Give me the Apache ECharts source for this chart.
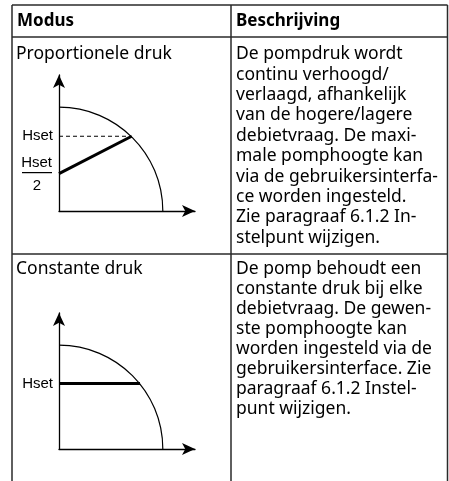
<!DOCTYPE html>
<html><head><meta charset="utf-8">
<script src="https://cdn.jsdelivr.net/npm/echarts@6/dist/echarts.min.js"></script>
<style>html,body{margin:0;padding:0;background:#fff}#c{width:449px;height:481px}</style>
</head><body><div id="c"></div>
<script>
// ---- content ----
const headers = ['Modus', 'Beschrijving'];
const modeNames = ['Proportionele druk', 'Constante druk'];
const descLines1 = ['De pompdruk wordt', 'continu verhoogd/', 'verlaagd, afhankelijk', 'van de hogere/lagere',
  'debietvraag. De maxi-', 'male pomphoogte kan', 'via de gebruikersinterfa-', 'ce worden ingesteld.',
  'Zie paragraaf 6.1.2 In-', 'stelpunt wijzigen.'];
const descLines2 = ['De pomp behoudt een', 'constante druk bij elke', 'debietvraag. De gewen-', 'ste pomphoogte kan',
  'worden ingesteld via de', 'gebruikersinterface. Zie', 'paragraaf 6.1.2 Instel-', 'punt wijzigen.'];
// ---- diagram values (relative units; shut-off head = 100) ----
const pumpCurveMax = [100, 100];      // [max flow, shut-off head]
const propHset = 72;
const propHalf = 36;
const propFlowAtHset = 70;
const constHset = 63;
const constFlowEnd = 78;
const axisMax = 131;
const hsetLabel = 'Hset';
const halfDenominator = '2';

const chart = echarts.init(document.getElementById('c'), null, {renderer: 'canvas'});

function axisCfg(i) {
  return {
    type: 'value', gridIndex: i, min: 0, max: axisMax,
    axisLine: {show: true, symbol: ['none', 'arrow'], symbolSize: [9, 13], lineStyle: {color: '#000', width: 1.3}},
    axisTick: {show: false}, axisLabel: {show: false}, splitLine: {show: false}
  };
}
function curveSeries(i) {
  return {
    type: 'custom', xAxisIndex: i, yAxisIndex: i, clip: false, silent: true,
    data: [pumpCurveMax],
    renderItem: function (params, api) {
      const o = api.coord([0, 0]);
      const px = api.coord([api.value(0), 0]);
      const py = api.coord([0, api.value(1)]);
      const rx = px[0] - o[0], ry = o[1] - py[1], k = 0.5523;
      return {type: 'bezierCurve', shape: {x1: o[0], y1: py[1], cpx1: o[0] + rx * k, cpy1: py[1],
        cpx2: px[0], cpy2: o[1] - ry * k, x2: px[0], y2: o[1]},
        style: {stroke: '#000', fill: null, lineWidth: 1.2}};
    }
  };
}
const lineBase = {type: 'line', symbol: 'none', silent: true, animation: false};

chart.setOption({
  animation: false,
  grid: [
    {left: 59, top: 75, width: 136, height: 136},
    {left: 59, top: 313, width: 136, height: 136}
  ],
  xAxis: [axisCfg(0), axisCfg(1)],
  yAxis: [axisCfg(0), axisCfg(1)],
  series: [
    curveSeries(0),
    Object.assign({}, lineBase, {xAxisIndex: 0, yAxisIndex: 0, data: [[0, propHset], [propFlowAtHset, propHset]],
      lineStyle: {color: '#000', width: 1, type: [4, 3]}}),
    Object.assign({}, lineBase, {xAxisIndex: 0, yAxisIndex: 0, data: [[0, propHalf], [propFlowAtHset, propHset]],
      lineStyle: {color: '#000', width: 3}}),
    curveSeries(1),
    Object.assign({}, lineBase, {xAxisIndex: 1, yAxisIndex: 1, data: [[0, constHset], [constFlowEnd, constHset]],
      lineStyle: {color: '#000', width: 3}})
  ]
});

// ---- table + labels ----
const bodyFont = '17.5px "Noto Sans"';
const lineCol = '#2a2a2a';
const L = 12, R = 447.5, T = 5, H1 = 37, H2 = 254, C = 231, B = 481;
const g = [];
function ln(x1, y1, x2, y2, w) {
  g.push({type: 'line', shape: {x1, y1, x2, y2}, style: {stroke: lineCol, lineWidth: w || 1.5}, silent: true});
}
ln(L, T, R, T); ln(L, H1, R, H1); ln(L, H2, R, H2);
ln(L, T, L, B); ln(C, T, C, B); ln(R, T, R, B);
function txt(x, y, s, font, extra) {
  g.push(Object.assign({type: 'text', x, y, silent: true,
    style: Object.assign({text: s, font: font, fill: '#000', verticalAlign: 'middle'}, extra || {})}));
}
txt(17, 21, headers[0], 'bold 17px "Noto Sans"');
txt(236, 21, headers[1], 'bold 17px "Noto Sans"');
txt(16, 54, modeNames[0], bodyFont);
txt(16, 269, modeNames[1], bodyFont);
txt(236, 44, descLines1.join('\n'), bodyFont, {verticalAlign: 'top', lineHeight: 20.4});
txt(236, 259, descLines2.join('\n'), bodyFont, {verticalAlign: 'top', lineHeight: 20});

const lblFont = '15px "Liberation Sans"';
const p1 = chart.convertToPixel({gridIndex: 0}, [0, propHset]);
const p2 = chart.convertToPixel({gridIndex: 0}, [0, propHalf]);
const p3 = chart.convertToPixel({gridIndex: 1}, [0, constHset]);
txt(p1[0] - 6, p1[1], hsetLabel, lblFont, {align: 'right'});
txt(p2[0] - 7, p2[1] - 11, hsetLabel, lblFont, {align: 'right'});
g.push({type: 'line', shape: {x1: p2[0] - 37, y1: p2[1] - 1, x2: p2[0] - 7, y2: p2[1] - 1},
  style: {stroke: '#000', lineWidth: 1.2}, silent: true});
txt(p2[0] - 22, p2[1] + 12, halfDenominator, lblFont, {align: 'center'});
txt(p3[0] - 6, p3[1], hsetLabel, lblFont, {align: 'right'});

chart.setOption({graphic: {elements: g}});
</script></body></html>
